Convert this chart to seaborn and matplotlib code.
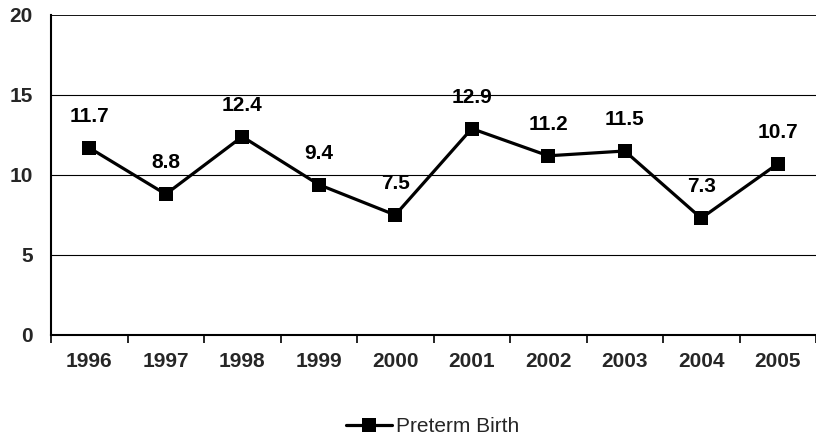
import matplotlib
matplotlib.use("Agg")
import matplotlib.pyplot as plt
import seaborn as sns
import pandas as pd
import numpy as np

years = ["1996", "1997", "1998", "1999", "2000", "2001", "2002", "2003", "2004", "2005"]
preterm = [11.7, 8.8, 12.4, 9.4, 7.5, 12.9, 11.2, 11.5, 7.3, 10.7]
y_ticks = [0, 5, 10, 15, 20]
series_name = "Preterm Birth"

sns.set_theme(style="white")
plt.rcParams['font.family'] = ['Liberation Sans', 'DejaVu Sans']

df = pd.DataFrame({"year": years, "value": preterm})

fig = plt.figure(figsize=(8.16, 4.38), dpi=100)
ax = fig.add_axes([51/816, 1-335/438, 1-51/816, (335-15)/438])

sns.pointplot(data=df, x="year", y="value", ax=ax, color="black",
              markers="s", linestyles="-", markersize=10, markeredgewidth=0,
              linewidth=2.3, label=series_name)

for i, v in enumerate(preterm):
    ax.annotate(f"{v:.1f}", (i, v), xytext=(0, 22.5), textcoords="offset points",
                ha="center", va="center", fontsize=15, fontweight="bold", color="black")

ax.set_ylim(0, 20)
ax.set_xlim(-0.5, len(years) - 0.5)
ax.set_yticks(y_ticks)
ax.set_yticklabels([str(t) for t in y_ticks], fontsize=15, fontweight="bold")
for t in y_ticks[1:-1]:
    ax.axhline(t, color="black", linewidth=0.8, zorder=0)
ax.axhline(20, color="black", linewidth=1.3, zorder=1)

ax.set_xticks(range(len(years)))
ax.set_xticklabels(years, fontsize=15, fontweight="bold")
ax.tick_params(axis="x", which="major", length=0, pad=12)
ax.set_xticks(np.arange(-0.5, len(years), 1.0), minor=True)
ax.tick_params(axis="x", which="minor", length=6, width=1.2, color="black", direction="out", bottom=True)
ax.tick_params(axis="y", length=0, pad=13)

ax.set_xlabel("")
ax.set_ylabel("")
for s in ["top", "right"]:
    ax.spines[s].set_visible(False)
for s in ["left", "bottom"]:
    ax.spines[s].set_visible(True)
    ax.spines[s].set_color("black")
    ax.spines[s].set_linewidth(1.5)

leg = ax.get_legend()
if leg is not None:
    leg.remove()
handles, labels = ax.get_legend_handles_labels()
fig.legend(handles, labels, loc="center", bbox_to_anchor=(433/816, 1-427/438),
           frameon=False, fontsize=15, handlelength=2.2, handletextpad=0.2)

fig.savefig("out.png", dpi=100)
